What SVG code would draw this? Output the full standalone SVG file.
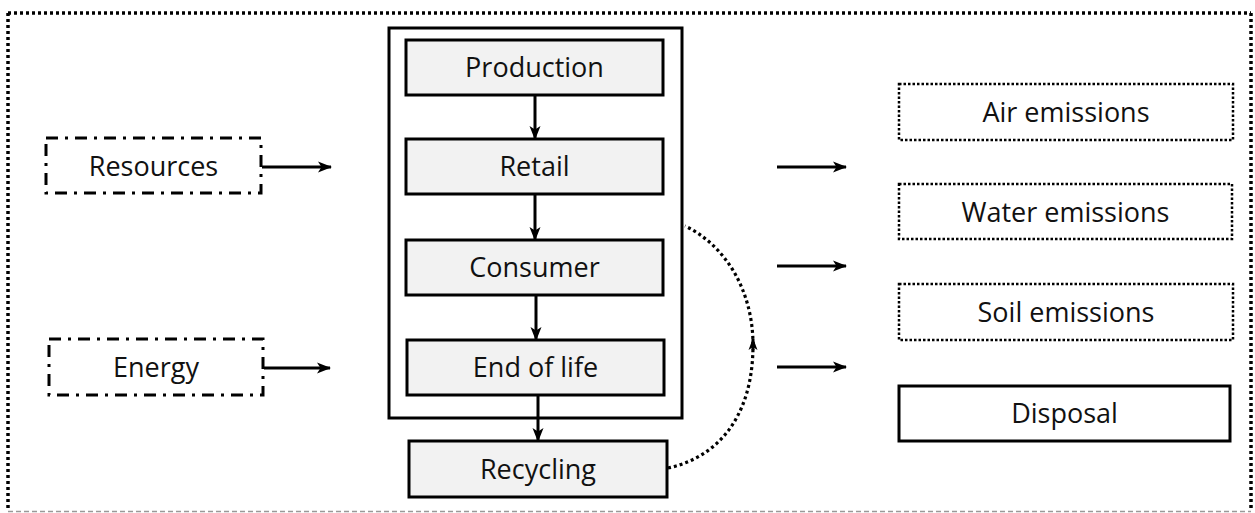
<svg xmlns="http://www.w3.org/2000/svg" width="1255" height="513" viewBox="0 0 1255 513">
<style>
  .lbl { font-family: "Open Sans", "Noto Sans", "Liberation Sans", sans-serif; font-size: 27px; fill: #111; text-anchor: middle; }
  .stage { fill: #f2f2f2; stroke: #000; stroke-width: 3; }
  .solid { fill: none; stroke: #000; stroke-width: 3; }
  .dashdot { fill: #fff; stroke: #000; stroke-width: 3; stroke-dasharray: 12 7 3 7; }
  .dotted { fill: #fff; stroke: #000; stroke-width: 2.5; stroke-dasharray: 2.5 2; }
  .frame { fill: none; stroke: #000; stroke-width: 3.5; stroke-dasharray: 3 3; }
  .frameb { fill: none; stroke: #999; stroke-width: 1.3; stroke-dasharray: 5 3; }
  .arrow { fill: none; stroke: #000; stroke-width: 3; marker-end: url(#ah); }
  .loop { fill: none; stroke: #000; stroke-width: 3.2; stroke-dasharray: 3 3; }
</style>
<defs>
  <marker id="ah" markerUnits="userSpaceOnUse" viewBox="0 0 14 12" refX="13" refY="6" markerWidth="14" markerHeight="12" orient="auto">
    <path d="M0,0.5 L14,6 L0,11.5 L3.5,6 Z" fill="#000"/>
  </marker>
  <marker id="ahs" markerUnits="userSpaceOnUse" viewBox="0 0 12 10" refX="11" refY="5" markerWidth="12" markerHeight="10" orient="auto">
    <path d="M0,0.5 L12,5 L0,9.5 L3,5 Z" fill="#000"/>
  </marker>
</defs>

<g id="frame">
  <line class="frame" x1="8" y1="13" x2="1251" y2="13"/>
  <line class="frame" x1="8" y1="13" x2="8" y2="511"/>
  <line class="frame" x1="1251" y1="13" x2="1251" y2="511"/>
  <line class="frameb" x1="8" y1="511.5" x2="1251" y2="511.5"/>
</g>

<g id="lifecycle">
  <rect class="solid" x="389" y="28" width="293" height="390"/>
</g>

<g id="connectors">
  <line class="arrow" x1="535" y1="95" x2="535" y2="139"/>
  <line class="arrow" x1="535" y1="194" x2="535" y2="240"/>
  <line class="arrow" x1="536" y1="295" x2="536" y2="340"/>
  <line class="arrow" x1="538" y1="395" x2="538" y2="441"/>
  <line class="arrow" x1="262" y1="167" x2="331" y2="167"/>
  <line class="arrow" x1="264" y1="368" x2="330" y2="368"/>
  <line class="arrow" x1="777" y1="167" x2="846" y2="167"/>
  <line class="arrow" x1="777" y1="266" x2="846" y2="266"/>
  <line class="arrow" x1="777" y1="367" x2="846" y2="367"/>
  <path class="loop" d="M668,468 C715,458 753,420 753,345"/>
  <path class="loop" d="M753,345 C753,290 725,245 685,226"/>
  <path d="M753,350 L753,339" fill="none" stroke="#000" stroke-width="3" marker-end="url(#ahs)"/>
</g>

<g id="production">
  <rect class="stage" x="406" y="40" width="257" height="55"/>
  <text class="lbl" x="534.5" y="77">Production</text>
</g>
<g id="retail">
  <rect class="stage" x="406" y="139" width="257" height="55"/>
  <text class="lbl" x="534.5" y="176">Retail</text>
</g>
<g id="consumer">
  <rect class="stage" x="406" y="240" width="257" height="55"/>
  <text class="lbl" x="534.5" y="277">Consumer</text>
</g>
<g id="end-of-life">
  <rect class="stage" x="407" y="340" width="257" height="55"/>
  <text class="lbl" x="535.5" y="377">End of life</text>
</g>
<g id="recycling">
  <rect class="stage" x="409" y="441" width="258" height="56"/>
  <text class="lbl" x="538" y="478.5">Recycling</text>
</g>

<g id="resources">
  <rect class="dashdot" x="46" y="138" width="215" height="55"/>
  <text class="lbl" x="153.5" y="176">Resources</text>
</g>
<g id="energy">
  <rect class="dashdot" x="49" y="339" width="214" height="56"/>
  <text class="lbl" x="156" y="376.5">Energy</text>
</g>

<g id="air-emissions">
  <rect class="dotted" x="899" y="84" width="334" height="56"/>
  <text class="lbl" x="1066" y="122">Air emissions</text>
</g>
<g id="water-emissions">
  <rect class="dotted" x="899" y="184" width="333" height="55"/>
  <text class="lbl" x="1065.5" y="221.5">Water emissions</text>
</g>
<g id="soil-emissions">
  <rect class="dotted" x="899" y="284" width="334" height="56"/>
  <text class="lbl" x="1066" y="322">Soil emissions</text>
</g>
<g id="disposal">
  <rect class="solid" x="899" y="386" width="331" height="55"/>
  <text class="lbl" x="1064.5" y="423">Disposal</text>
</g>
</svg>
